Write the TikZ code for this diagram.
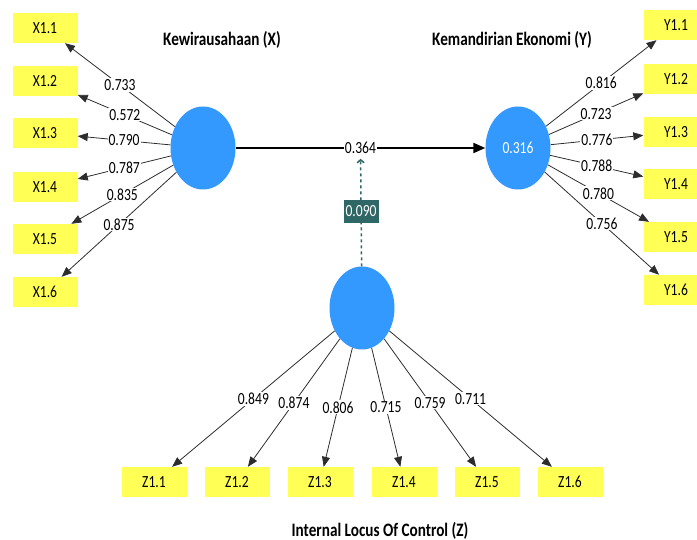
\documentclass[tikz,border=0pt]{standalone}
\usepackage{fontspec}
\setmainfont{Carlito}[FakeStretch=0.8]
\usetikzlibrary{arrows.meta,shapes.geometric}
\definecolor{lvblue}{RGB}{51,153,255}
\definecolor{mvyellow}{RGB}{255,255,85}
\definecolor{modteal}{RGB}{47,102,102}
\definecolor{pathgray}{RGB}{45,45,45}

\begin{document}
\begin{tikzpicture}[x=1pt,y=-1pt,
  lv/.style={ellipse,fill=lvblue,minimum width=65pt,minimum height=83pt,inner sep=0pt,
             text=white,font=\fontsize{17}{19}\selectfont},
  mv/.style={fill=mvyellow,minimum width=65pt,minimum height=30pt,inner sep=0pt,
             font=\fontsize{17}{19}\selectfont},
  ttl/.style={font=\fontsize{19}{22}\selectfont\bfseries},
  ld/.style={draw=pathgray,line width=0.8pt,-{Triangle[length=10pt,width=8pt]}},
  lbl/.style={fill=white,inner sep=1pt,font=\fontsize{17}{19}\selectfont}]
  \clip (0,0) rectangle (697,540);
  % latent variables
  \node[lv] (lvx) at (203,148) {};
  \node[lv] (lvy) at (518,148) {0.316};
  \node[lv] (lvz) at (362,308) {};
  \node[ttl] (tx) at (222,40)  {Kewirausahaan (X)};
  \node[ttl] (ty) at (512,40)  {Kemandirian Ekonomi (Y)};
  \node[ttl] (tz) at (380,531) {Internal Locus Of Control (Z)};
  % indicators
  \node[mv] (x1) at (45,28)  {X1.1};
  \node[mv] (x2) at (45,81)  {X1.2};
  \node[mv] (x3) at (45,133) {X1.3};
  \node[mv] (x4) at (45,187) {X1.4};
  \node[mv] (x5) at (45,239) {X1.5};
  \node[mv] (x6) at (45,292) {X1.6};
  \node[mv] (y1) at (676,25)  {Y1.1};
  \node[mv] (y2) at (676,79)  {Y1.2};
  \node[mv] (y3) at (676,132) {Y1.3};
  \node[mv] (y4) at (676,184) {Y1.4};
  \node[mv] (y5) at (676,237) {Y1.5};
  \node[mv] (y6) at (676,290) {Y1.6};
  \node[mv] (z1) at (154,482) {Z1.1};
  \node[mv] (z2) at (237,482) {Z1.2};
  \node[mv] (z3) at (320,482) {Z1.3};
  \node[mv] (z4) at (404,482) {Z1.4};
  \node[mv] (z5) at (487,482) {Z1.5};
  \node[mv] (z6) at (570,482) {Z1.6};
  % loadings
  \draw[ld] (lvx) -- node[lbl]{0.733} (x1);
  \draw[ld] (lvx) -- node[lbl]{0.572} (x2);
  \draw[ld] (lvx) -- node[lbl]{0.790} (x3);
  \draw[ld] (lvx) -- node[lbl]{0.787} (x4);
  \draw[ld] (lvx) -- node[lbl]{0.835} (x5);
  \draw[ld] (lvx) -- node[lbl]{0.875} (x6);
  \draw[ld] (lvy) -- node[lbl]{0.816} (y1);
  \draw[ld] (lvy) -- node[lbl]{0.723} (y2);
  \draw[ld] (lvy) -- node[lbl]{0.776} (y3);
  \draw[ld] (lvy) -- node[lbl]{0.788} (y4);
  \draw[ld] (lvy) -- node[lbl]{0.780} (y5);
  \draw[ld] (lvy) -- node[lbl]{0.756} (y6);
  \draw[ld] (lvz) -- node[lbl]{0.849} (z1);
  \draw[ld] (lvz) -- node[lbl]{0.874} (z2);
  \draw[ld] (lvz) -- node[lbl]{0.806} (z3);
  \draw[ld] (lvz) -- node[lbl]{0.715} (z4);
  \draw[ld] (lvz) -- node[lbl]{0.759} (z5);
  \draw[ld] (lvz) -- node[lbl]{0.711} (z6);
  % structural path and moderation
  \draw[line width=2pt,-{Triangle[length=12pt,width=10pt]}] (lvx) -- node[lbl] (beta) {0.364} (lvy);
  \draw[modteal,line width=1.5pt,dashed,shorten >=3pt,-{Straight Barb[length=3pt,width=7pt]}]
    (lvz) -- node[fill=modteal,text=white,inner sep=2pt,minimum height=23pt,solid,
                  font=\fontsize{17}{19}\selectfont] (mod) {0.090} (beta);
\end{tikzpicture}
\end{document}
